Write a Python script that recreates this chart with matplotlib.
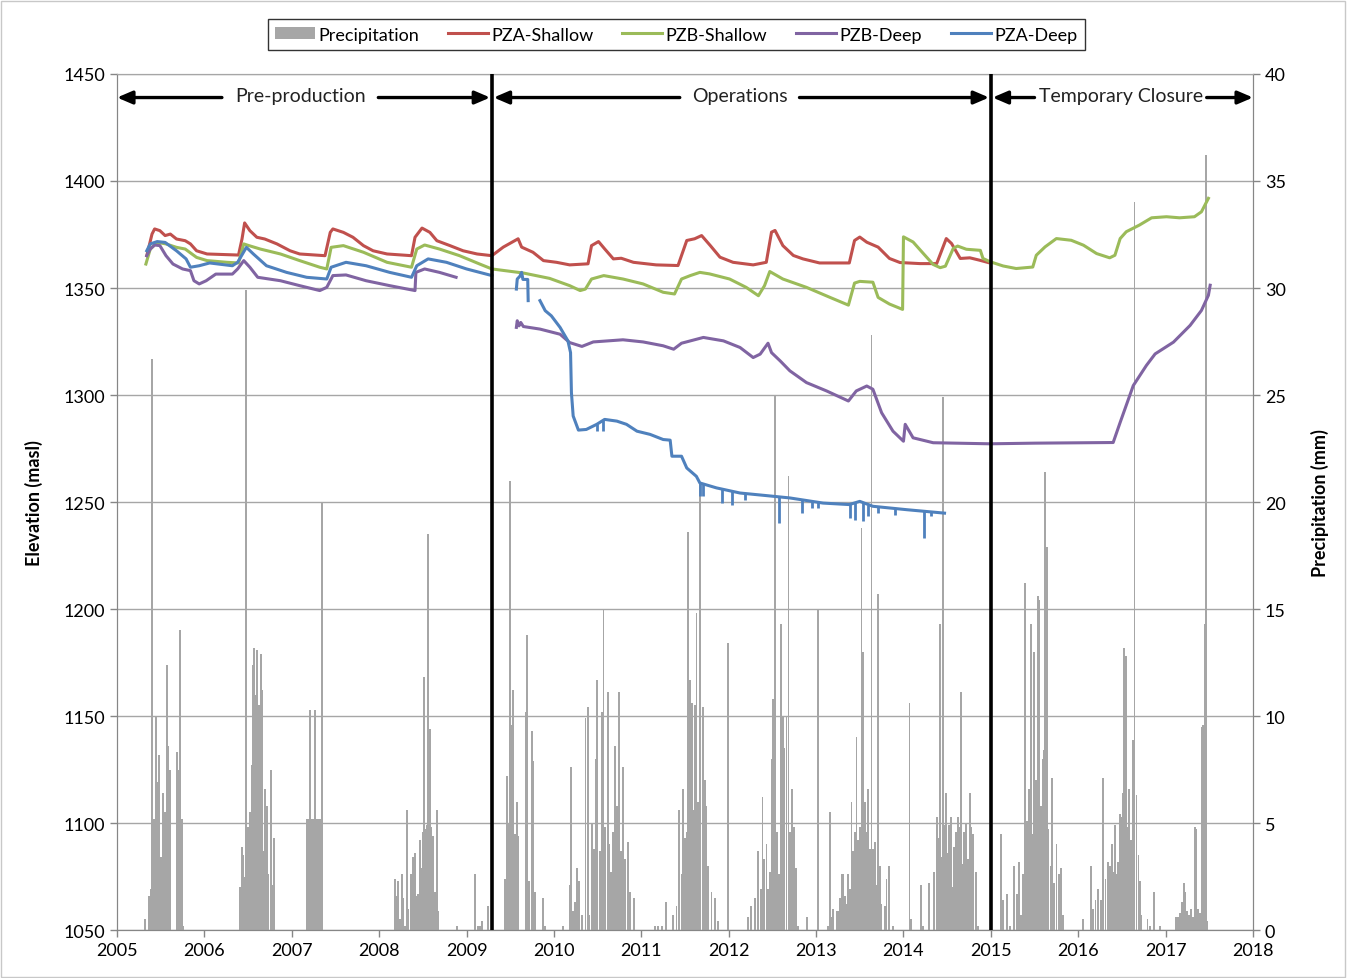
import numpy as np
import matplotlib
matplotlib.use('Agg')
import matplotlib.pyplot as plt
from matplotlib.patches import Patch, Rectangle
from matplotlib.lines import Line2D

plt.rcParams['font.family'] = ['Lato', 'DejaVu Sans']

nan = np.nan

# daily precipitation spikes (decimal year, mm)
precip = np.array([
    # 2005 wet season
    (2005.324, 0.5), (2005.370, 1.6), (2005.385, 1.9), (2005.397, 26.7), (2005.412, 2.0),
    (2005.427, 5.2), (2005.446, 10.0), (2005.462, 6.9), (2005.473, 4.0), (2005.484, 8.2),
    (2005.503, 3.4), (2005.515, 3.4), (2005.530, 6.4), (2005.545, 5.5), (2005.568, 12.4),
    (2005.587, 8.6), (2005.606, 7.5), (2005.683, 8.3), (2005.702, 7.5), (2005.721, 14.0),
    (2005.740, 5.2), (2005.759, 0.2),
    # 2006
    (2006.407, 2.0), (2006.426, 3.9), (2006.445, 3.5), (2006.465, 2.5), (2006.476, 29.9),
    (2006.488, 4.0), (2006.502, 4.8), (2006.522, 5.5), (2006.541, 7.7), (2006.552, 12.4),
    (2006.568, 13.2), (2006.583, 11.0), (2006.598, 13.1), (2006.613, 6.5), (2006.629, 10.5),
    (2006.644, 12.9), (2006.659, 11.2), (2006.674, 3.7), (2006.693, 6.6), (2006.712, 5.8),
    (2006.731, 2.6), (2006.758, 7.5), (2006.777, 2.1), (2006.796, 4.3),
    # 2007
    (2007.170, 5.2), (2007.188, 5.2), (2007.208, 10.3), (2007.225, 5.2), (2007.245, 5.2),
    (2007.265, 10.3), (2007.283, 5.2), (2007.300, 5.2), (2007.318, 5.2), (2007.333, 5.2),
    (2007.342, 20.0),
    # 2008
    (2008.177, 2.4), (2008.200, 1.6), (2008.219, 2.3), (2008.238, 0.5), (2008.257, 2.6),
    (2008.276, 1.5), (2008.295, 0.2), (2008.314, 5.6), (2008.333, 1.0), (2008.360, 2.6),
    (2008.383, 3.4), (2008.398, 1.6), (2008.414, 3.6), (2008.429, 1.6), (2008.448, 1.7),
    (2008.467, 4.2), (2008.486, 2.9), (2008.497, 4.6), (2008.513, 11.8), (2008.528, 4.7),
    (2008.543, 4.9), (2008.562, 18.5), (2008.581, 9.4), (2008.597, 4.8), (2008.620, 4.4),
    (2008.639, 1.8), (2008.658, 5.6), (2008.673, 0.9),
    (2008.894, 0.2), (2009.096, 2.6), (2009.134, 0.2), (2009.153, 0.2), (2009.180, 0.4),
    (2009.249, 1.1),
    # 2009
    (2009.439, 2.4), (2009.466, 7.2), (2009.481, 5.0), (2009.497, 21.0), (2009.516, 9.6),
    (2009.531, 11.2), (2009.554, 4.5), (2009.573, 6.0), (2009.592, 4.4), (2009.680, 10.2),
    (2009.695, 13.8), (2009.718, 2.3), (2009.748, 9.3), (2009.764, 7.9), (2009.783, 1.8),
    (2009.870, 1.5), (2009.897, 0.2),
    # 2010
    (2010.099, 0.2), (2010.183, 2.1), (2010.198, 7.6), (2010.221, 0.9), (2010.244, 1.3),
    (2010.267, 2.9), (2010.290, 2.3), (2010.317, 0.7), (2010.362, 9.9), (2010.385, 10.4),
    (2010.404, 0.7), (2010.431, 5.0), (2010.458, 3.8), (2010.481, 8.0), (2010.496, 11.7),
    (2010.526, 3.7), (2010.549, 10.2), (2010.568, 15.0), (2010.588, 4.8), (2010.614, 11.1),
    (2010.633, 4.0), (2010.652, 2.7), (2010.679, 4.6), (2010.702, 8.6), (2010.717, 5.8),
    (2010.740, 11.1), (2010.763, 3.7), (2010.793, 7.6), (2010.812, 3.3), (2010.847, 4.1),
    (2010.870, 1.8), (2010.915, 1.5),
    # 2011
    (2011.156, 0.2), (2011.194, 0.2), (2011.232, 0.2), (2011.281, 1.3), (2011.365, 0.7),
    (2011.403, 1.1), (2011.430, 5.6), (2011.461, 2.6), (2011.480, 6.6), (2011.499, 4.3),
    (2011.518, 4.6), (2011.537, 18.6), (2011.556, 11.7), (2011.579, 10.6), (2011.594, 5.6),
    (2011.613, 10.5), (2011.632, 14.8), (2011.651, 6.0), (2011.667, 20.9), (2011.678, 12.4),
    (2011.709, 10.4), (2011.724, 7.0), (2011.739, 5.8), (2011.766, 3.0), (2011.804, 1.8),
    (2011.842, 1.5), (2011.880, 0.4), (2011.995, 13.4),
    # 2012
    (2012.223, 0.6), (2012.254, 1.1), (2012.300, 1.5), (2012.338, 3.7), (2012.365, 1.9),
    (2012.387, 6.2), (2012.406, 3.3), (2012.433, 4.0), (2012.452, 1.9), (2012.472, 2.7),
    (2012.491, 8.0), (2012.510, 10.8), (2012.529, 25.0), (2012.548, 4.6), (2012.571, 2.6),
    (2012.594, 14.3), (2012.609, 8.5), (2012.624, 10.0), (2012.639, 8.5), (2012.662, 10.0),
    (2012.685, 21.2), (2012.700, 4.6), (2012.723, 6.6), (2012.746, 4.8), (2012.769, 2.9),
    (2012.796, 0.2), (2012.899, 0.6), (2013.024, 15.0),
    # 2013
    (2013.139, 0.2), (2013.158, 5.5), (2013.177, 0.6), (2013.196, 1.0), (2013.234, 0.9),
    (2013.253, 0.9), (2013.272, 1.5), (2013.291, 2.6), (2013.310, 2.6), (2013.330, 1.6),
    (2013.349, 1.2), (2013.368, 2.6), (2013.387, 1.9), (2013.406, 6.0), (2013.425, 3.7),
    (2013.444, 4.6), (2013.463, 9.0), (2013.482, 4.2), (2013.501, 4.8), (2013.520, 18.8),
    (2013.539, 13.0), (2013.558, 6.0), (2013.577, 4.6), (2013.597, 6.6), (2013.616, 3.8),
    (2013.635, 27.8), (2013.654, 3.8), (2013.673, 4.1), (2013.692, 2.1), (2013.711, 15.7),
    (2013.730, 3.0), (2013.749, 1.2), (2013.787, 1.1), (2013.806, 2.4), (2013.833, 3.0),
    (2013.883, 0.2),
    # 2014
    (2014.069, 10.6), (2014.088, 0.5), (2014.202, 2.1), (2014.221, 0.2), (2014.297, 2.2),
    (2014.354, 2.7), (2014.381, 5.3), (2014.400, 4.3), (2014.419, 14.3), (2014.438, 3.4),
    (2014.450, 24.9), (2014.460, 4.9), (2014.484, 6.4), (2014.503, 3.6), (2014.522, 4.9),
    (2014.541, 5.3), (2014.560, 2.0), (2014.579, 3.9), (2014.602, 4.6), (2014.621, 5.3),
    (2014.640, 4.8), (2014.659, 11.1), (2014.678, 3.1), (2014.697, 4.6), (2014.716, 5.0),
    (2014.735, 3.3), (2014.758, 6.4), (2014.777, 4.8), (2014.800, 4.5), (2014.830, 2.7),
    (2014.850, 0.2),
    # 2015
    (2015.116, 4.5), (2015.143, 1.4), (2015.189, 1.7), (2015.219, 0.2), (2015.269, 3.0),
    (2015.295, 1.7), (2015.318, 3.2), (2015.345, 0.7), (2015.371, 2.6), (2015.394, 16.2),
    (2015.413, 5.1), (2015.436, 6.6), (2015.455, 14.3), (2015.474, 4.5), (2015.497, 13.0),
    (2015.516, 7.0), (2015.535, 15.6), (2015.554, 15.4), (2015.573, 5.8), (2015.592, 8.0),
    (2015.608, 8.4), (2015.619, 21.4), (2015.638, 17.9), (2015.657, 4.7), (2015.684, 3.0),
    (2015.703, 7.1), (2015.726, 2.2), (2015.752, 4.0), (2015.783, 2.6), (2015.806, 2.9),
    (2015.829, 0.7),
    # 2016
    (2016.050, 0.5), (2016.145, 3.0), (2016.171, 1.0), (2016.198, 1.4), (2016.229, 1.9),
    (2016.259, 1.4), (2016.286, 7.1), (2016.312, 2.4), (2016.339, 3.2), (2016.362, 3.0),
    (2016.385, 4.0), (2016.400, 2.7), (2016.419, 4.9), (2016.438, 2.6), (2016.457, 3.2),
    (2016.476, 5.4), (2016.495, 5.3), (2016.510, 6.4), (2016.526, 13.2), (2016.545, 12.8),
    (2016.564, 4.8), (2016.583, 6.6), (2016.602, 4.2), (2016.629, 8.9), (2016.644, 34.0),
    (2016.667, 6.3), (2016.690, 3.5), (2016.705, 2.3), (2016.724, 0.7), (2016.792, 0.5),
    (2016.819, 0.2), (2016.869, 1.8), (2016.933, 0.2),
    # 2017
    (2017.116, 0.6), (2017.143, 0.6), (2017.162, 0.8), (2017.185, 1.3), (2017.208, 2.2),
    (2017.227, 1.8), (2017.246, 0.9), (2017.265, 0.7), (2017.288, 1.0), (2017.314, 0.6),
    (2017.337, 4.8), (2017.352, 4.7), (2017.371, 1.0), (2017.390, 0.8), (2017.410, 9.5),
    (2017.429, 9.6), (2017.448, 14.3), (2017.459, 36.2), (2017.474, 0.4),
])

# piezometer levels (decimal year, masl); nan = gap in record
pza_shallow = np.array([
    (2005.34, 1365.1), (2005.40, 1375.2), (2005.43, 1377.6), (2005.49, 1376.8), (2005.55, 1374.5),
    (2005.61, 1375.2), (2005.68, 1372.9), (2005.78, 1372.1), (2005.84, 1370.6), (2005.91, 1367.4),
    (2006.03, 1365.9), (2006.39, 1365.4), (2006.43, 1372.9), (2006.46, 1380.4), (2006.52, 1376.8),
    (2006.60, 1373.7), (2006.69, 1372.9), (2006.83, 1370.6), (2006.98, 1367.4), (2007.09, 1365.9),
    (2007.38, 1365.1), (2007.44, 1376.0), (2007.47, 1377.6), (2007.59, 1376.0), (2007.70, 1373.7),
    (2007.82, 1369.8), (2007.93, 1367.4), (2008.09, 1365.9), (2008.37, 1365.1), (2008.41, 1373.7),
    (2008.49, 1378.0), (2008.58, 1376.0), (2008.66, 1372.1), (2008.81, 1369.8), (2008.96, 1367.4),
    (2009.12, 1365.9), (2009.29, 1365.1), (2009.42, 1369.1), (2009.59, 1373.0), (2009.63, 1369.1),
    (2009.76, 1366.7), (2009.88, 1362.8), (2010.03, 1362.0), (2010.18, 1360.8), (2010.39, 1361.3),
    (2010.43, 1369.8), (2010.51, 1371.7), (2010.58, 1368.3), (2010.68, 1363.6), (2010.77, 1363.9),
    (2010.91, 1362.0), (2011.17, 1360.8), (2011.42, 1360.5), (2011.52, 1372.2), (2011.61, 1373.0),
    (2011.69, 1374.5), (2011.79, 1369.8), (2011.90, 1364.4), (2012.05, 1362.0), (2012.28, 1360.8),
    (2012.43, 1362.0), (2012.49, 1376.1), (2012.53, 1376.9), (2012.62, 1369.8), (2012.74, 1365.2),
    (2012.85, 1363.6), (2013.04, 1361.7), (2013.38, 1361.7), (2013.44, 1372.2), (2013.50, 1373.8),
    (2013.58, 1371.4), (2013.71, 1369.1), (2013.84, 1363.8), (2013.96, 1361.9), (2014.19, 1361.4),
    (2014.38, 1361.4), (2014.49, 1373.1), (2014.55, 1370.8), (2014.65, 1363.8), (2014.76, 1364.1),
    (2014.87, 1363.0), (2014.97, 1361.9),
])

pzb_shallow = np.array([
    (2005.33, 1361.2), (2005.38, 1368.2), (2005.46, 1371.3), (2005.56, 1370.6), (2005.68, 1369.0),
    (2005.78, 1368.2), (2005.91, 1364.3), (2006.03, 1362.8), (2006.26, 1362.0), (2006.39, 1361.7),
    (2006.45, 1370.6), (2006.51, 1369.8), (2006.64, 1368.2), (2006.87, 1365.9), (2007.09, 1362.8),
    (2007.32, 1359.7), (2007.40, 1358.9), (2007.45, 1369.0), (2007.59, 1369.8), (2007.82, 1366.7),
    (2008.09, 1362.0), (2008.37, 1359.7), (2008.43, 1368.2), (2008.52, 1370.1), (2008.69, 1368.2),
    (2008.92, 1365.1), (2009.15, 1361.2), (2009.29, 1358.9), (2009.65, 1357.0), (2009.95, 1354.5),
    (2010.18, 1351.1), (2010.30, 1348.8), (2010.36, 1349.5), (2010.43, 1354.2), (2010.57, 1355.8),
    (2010.79, 1354.2), (2011.02, 1351.9), (2011.25, 1348.0), (2011.38, 1347.2), (2011.46, 1354.2),
    (2011.56, 1355.8), (2011.67, 1357.3), (2011.78, 1356.6), (2012.01, 1354.2), (2012.20, 1350.3),
    (2012.34, 1346.4), (2012.41, 1351.1), (2012.47, 1357.7), (2012.62, 1354.2), (2012.89, 1350.3),
    (2013.16, 1345.6), (2013.37, 1342.0), (2013.44, 1352.3), (2013.50, 1353.1), (2013.65, 1352.7),
    (2013.71, 1345.6), (2013.84, 1342.5), (2013.99, 1340.0), (2014.00, 1373.9), (2014.11, 1371.5),
    (2014.23, 1366.0), (2014.34, 1361.0), (2014.42, 1359.5), (2014.48, 1360.2), (2014.57, 1368.5),
    (2014.62, 1369.6), (2014.72, 1368.1), (2014.88, 1367.6), (2014.91, 1363.8), (2014.99, 1362.3),
    (2015.14, 1360.3), (2015.29, 1359.1), (2015.48, 1359.8), (2015.52, 1365.3), (2015.62, 1369.2),
    (2015.75, 1373.1), (2015.92, 1372.3), (2016.06, 1370.0), (2016.21, 1366.1), (2016.36, 1364.1),
    (2016.42, 1365.3), (2016.48, 1373.1), (2016.55, 1376.3), (2016.70, 1379.4), (2016.84, 1382.8),
    (2017.01, 1383.3), (2017.16, 1382.8), (2017.33, 1383.3), (2017.41, 1385.6), (2017.49, 1391.9),
])

pzb_deep = np.array([
    (2005.34, 1365.1), (2005.38, 1368.2), (2005.43, 1370.1), (2005.49, 1369.8), (2005.56, 1365.1),
    (2005.64, 1361.2), (2005.75, 1358.9), (2005.84, 1358.1), (2005.88, 1353.4), (2005.94, 1351.9),
    (2006.02, 1353.4), (2006.13, 1356.5), (2006.32, 1356.5), (2006.38, 1358.9), (2006.45, 1362.8),
    (2006.52, 1359.7), (2006.61, 1355.0), (2006.87, 1353.4), (2007.09, 1351.1), (2007.32, 1348.8),
    (2007.40, 1350.3), (2007.47, 1355.8), (2007.62, 1356.1), (2007.85, 1353.4), (2008.12, 1351.1),
    (2008.41, 1348.8), (2008.42, 1357.3), (2008.52, 1358.9), (2008.69, 1357.3), (2008.88, 1355.0),
    (nan, nan),
    (2009.57, 1331.6), (2009.58, 1334.7), (2009.60, 1332.3), (2009.62, 1333.9), (2009.65, 1332.0),
    (2009.84, 1330.8), (2010.07, 1328.4), (2010.18, 1324.5), (2010.32, 1322.7), (2010.45, 1324.8),
    (2010.79, 1325.8), (2011.02, 1324.8), (2011.25, 1323.0), (2011.37, 1321.4), (2011.46, 1324.2),
    (2011.71, 1326.9), (2011.94, 1325.3), (2012.13, 1322.2), (2012.28, 1317.5), (2012.36, 1319.1),
    (2012.45, 1324.2), (2012.49, 1319.8), (2012.59, 1315.9), (2012.70, 1311.3), (2012.89, 1305.8),
    (2013.12, 1301.9), (2013.37, 1297.2), (2013.46, 1301.9), (2013.58, 1304.2), (2013.65, 1302.7),
    (2013.75, 1291.7), (2013.88, 1283.1), (2014.00, 1278.4), (2014.02, 1286.3), (2014.11, 1280.0),
    (2014.34, 1277.7), (2014.99, 1277.2), (2015.50, 1277.5), (2016.40, 1277.8), (2016.48, 1287.2),
    (2016.63, 1304.4), (2016.78, 1313.8), (2016.88, 1319.2), (2017.09, 1324.7), (2017.28, 1332.5),
    (2017.41, 1339.5), (2017.49, 1346.6), (2017.51, 1351.3),
])

pza_deep = np.array([
    (2005.34, 1367.4), (2005.38, 1370.6), (2005.46, 1371.7), (2005.55, 1371.3), (2005.68, 1367.4),
    (2005.79, 1363.6), (2005.84, 1359.7), (2005.94, 1360.4), (2006.06, 1361.7), (2006.32, 1360.4),
    (2006.38, 1362.0), (2006.48, 1369.0), (2006.56, 1365.9), (2006.71, 1360.4), (2006.94, 1357.3),
    (2007.17, 1355.0), (2007.40, 1354.2), (2007.45, 1359.7), (2007.62, 1362.0), (2007.85, 1360.4),
    (2008.12, 1357.3), (2008.37, 1355.0), (2008.43, 1360.4), (2008.56, 1363.6), (2008.77, 1362.0),
    (2009.00, 1358.9), (2009.29, 1355.8),
    (nan, nan),
    (2009.57, 1349.5), (2009.58, 1354.2), (2009.61, 1355.5), (2009.63, 1357.3), (2009.645, 1354.0),
    (2009.70, 1354.0), (2009.705, 1344.1),
    (nan, nan),
    (2009.84, 1344.1), (2009.90, 1339.4), (2009.97, 1337.0), (2010.07, 1331.6), (2010.16, 1325.3),
    (2010.19, 1319.8), (2010.20, 1301.1), (2010.22, 1290.2), (2010.28, 1283.6), (2010.37, 1283.9),
    (2010.49, 1286.3), (2010.58, 1288.6), (2010.72, 1287.8), (2010.83, 1286.3), (2010.95, 1283.1),
    (2011.10, 1281.6), (2011.25, 1279.2), (2011.33, 1278.9), (2011.35, 1271.4), (2011.46, 1271.4),
    (2011.52, 1265.9), (2011.63, 1262.0), (2011.67, 1258.9), (2011.86, 1256.6), (2012.13, 1254.2),
    (2012.43, 1253.0), (2012.70, 1251.9), (2013.08, 1249.5), (2013.38, 1248.8), (2013.50, 1250.3),
    (2013.65, 1248.0), (2014.04, 1246.4), (2014.47, 1244.8),
])

# short drawdown spikes in PZA-Deep (decimal year, lowest reading)
pza_deep_dips = np.array([
    (2010.496, 1283.0), (2010.565, 1283.0), (2011.671, 1252.7), (2011.709, 1252.7),
    (2011.919, 1249.5), (2012.033, 1248.8), (2012.186, 1251.1), (2012.579, 1240.2),
    (2012.834, 1245.0), (2012.948, 1247.3), (2013.025, 1247.3), (2013.387, 1242.5),
    (2013.444, 1241.7), (2013.532, 1241.0), (2013.597, 1243.3), (2013.711, 1244.8),
    (2013.902, 1244.1), (2014.238, 1233.1), (2014.310, 1243.3),
])

phase_bounds = [2009.29, 2015.0]
years = list(range(2005, 2019))

RED, GREEN, PURPLE, BLUE, GREY = '#C0504D', '#9BBB59', '#8064A2', '#4F81BD', '#A6A6A6'
AXIS_GREY = '#868686'
GRID_GREY = '#A6A6A6'

fig = plt.figure(figsize=(13.47, 9.79), dpi=100)
ax = fig.add_axes([0.0869, 0.0490, 0.8433, 0.8744])
ax2 = ax.twinx()

# precipitation bars on the secondary axis, behind the water levels
ax2.bar(precip[:, 0], precip[:, 1], width=0.021, color=GREY, linewidth=0, align='center')
ax2.set_ylim(0, 40)
ax2.set_yticks(range(0, 41, 5))
ax2.grid(axis='y', color=GRID_GREY, lw=1)
ax2.set_axisbelow(True)

ax.set_zorder(ax2.get_zorder() + 1)
ax.patch.set_visible(False)

lw = 2.2
ax.plot(pza_shallow[:, 0], pza_shallow[:, 1], color=RED, lw=lw)
ax.plot(pzb_shallow[:, 0], pzb_shallow[:, 1], color=GREEN, lw=lw)
ax.plot(pzb_deep[:, 0], pzb_deep[:, 1], color=PURPLE, lw=lw)
ax.plot(pza_deep[:, 0], pza_deep[:, 1], color=BLUE, lw=lw)
seg = pza_deep[~np.isnan(pza_deep[:, 0])]
seg = seg[seg[:, 0] > 2009.8]
dip_top = np.interp(pza_deep_dips[:, 0], seg[:, 0], seg[:, 1])
ax.vlines(pza_deep_dips[:, 0], pza_deep_dips[:, 1], dip_top, color=BLUE, lw=2.0)

for xb in phase_bounds:
    ax.axvline(xb, color='black', lw=2.6, zorder=5)

ax.set_xlim(2005, 2018)
ax.set_ylim(1050, 1450)
ax.set_yticks(range(1050, 1451, 50))
ax.set_xticks(years)

# phase annotations with arrows
arrow_y = 1439
arr = dict(arrowstyle='-|>,head_length=0.7,head_width=0.3', color='black', lw=2.4,
           mutation_scale=13, shrinkA=0, shrinkB=0)
phases = [
    ('Pre-production', 2005.0, 2009.27, 2006.20, 2007.99),
    ('Operations', 2009.31, 2014.98, 2011.44, 2012.81),
    ('Temporary Closure', 2015.02, 2018.0, 2015.50, 2017.47),
]
for label, x0, x1, g0, g1 in phases:
    ax.annotate('', xy=(x0, arrow_y), xytext=(g0, arrow_y), arrowprops=arr, zorder=6)
    ax.annotate('', xy=(x1, arrow_y), xytext=(g1, arrow_y), arrowprops=arr, zorder=6)
    ax.text((g0 + g1) / 2, arrow_y + 0.8, label, ha='center', va='center', fontsize=14,
            color='#222222')

for a in (ax, ax2):
    for side in ('left', 'right', 'bottom'):
        a.spines[side].set_color(AXIS_GREY)
    a.spines['top'].set_color(GRID_GREY)
    a.tick_params(colors=AXIS_GREY, labelcolor='black', labelsize=13, length=5, width=1)

ax.set_ylabel('Elevation (masl)', fontsize=13, fontweight='bold')
ax.yaxis.set_label_coords(-0.065, 0.5)
ax2.set_ylabel('Precipitation (mm)', fontsize=13, fontweight='bold', rotation=90)
ax2.yaxis.set_label_coords(1.051, 0.5)

handles = [
    Patch(facecolor=GREY, edgecolor='none'),
    Line2D([], [], color=RED, lw=lw),
    Line2D([], [], color=GREEN, lw=lw),
    Line2D([], [], color=PURPLE, lw=lw),
    Line2D([], [], color=BLUE, lw=lw),
]
labels = ['Precipitation', 'PZA-Shallow', 'PZB-Shallow', 'PZB-Deep', 'PZA-Deep']
leg = fig.legend(handles, labels, loc='center', bbox_to_anchor=(0.502, 0.9637), ncol=5,
                 fontsize=13, frameon=True, fancybox=False, edgecolor='black',
                 handlelength=2.2, handleheight=0.6, handletextpad=0.2,
                 columnspacing=1.6, borderpad=0.4, borderaxespad=0)
leg.get_frame().set_linewidth(1.0)

fig.add_artist(Rectangle((0.0008, 0.001), 0.998, 0.997, transform=fig.transFigure,
                         fill=False, edgecolor='#C8C8C8', lw=1))

fig.savefig('out.png', dpi=100)
